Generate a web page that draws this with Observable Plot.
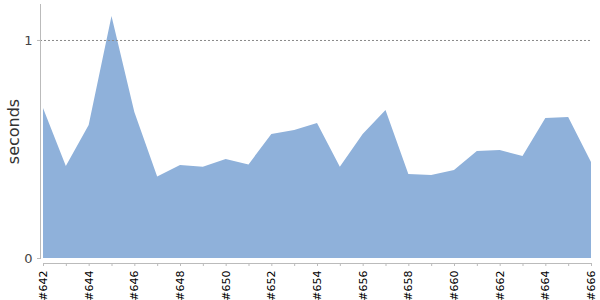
<!DOCTYPE html>
<html>
<head>
<meta charset="utf-8">
<script src="https://cdn.jsdelivr.net/npm/d3@7"></script>
<script src="https://cdn.jsdelivr.net/npm/@observablehq/plot@0.6"></script>
<style>
  html, body { margin: 0; padding: 0; background: #fff; }
  svg { font-family: "DejaVu Sans", sans-serif; display: block; }
</style>
</head>
<body>
<div id="chart"></div>
<script>
const builds = ["#642","#643","#644","#645","#646","#647","#648","#649","#650","#651","#652","#653","#654","#655","#656","#657","#658","#659","#660","#661","#662","#663","#664","#665","#666"];
const seconds = [0.688,0.422,0.610,1.110,0.670,0.374,0.427,0.419,0.454,0.429,0.569,0.587,0.619,0.419,0.569,0.679,0.385,0.381,0.404,0.491,0.495,0.468,0.642,0.647,0.440];
const yTicks = [0, 1];

const buildNums = builds.map(b => +b.slice(1));
const data = builds.map((b, i) => ({n: buildNums[i], sec: seconds[i]}));

const chart = Plot.plot({
  width: 600,
  height: 300,
  marginLeft: 43,
  marginRight: 9,
  marginTop: 4,
  marginBottom: 42,
  style: {fontFamily: "DejaVu Sans, sans-serif", background: "#fff"},
  x: {type: "linear", domain: [buildNums[0], buildNums[buildNums.length - 1]]},
  y: {domain: [0, 1.165]},
  marks: [
    Plot.areaY(data, {x: "n", y: "sec", fill: "#8fb1da", curve: "linear"}),
    Plot.ruleY([1], {stroke: "#888", strokeDasharray: "2,2", strokeWidth: 1, insetLeft: -3, insetRight: 1}),
    Plot.ruleX([buildNums[0]], {stroke: "#bbb", dx: -3, insetBottom: -1}),
    Plot.ruleY([0], {stroke: "#bbb", dy: 5}),
    Plot.axisX({
      ticks: buildNums,
      tickSize: 3,
      dy: 5,
      tickRotate: -90,
      tickPadding: 4,
      tickFormat: d => (builds.indexOf("#" + d) % 2 === 0 ? "#" + d : ""),
      fontSize: 11,
      fill: "#000",
      stroke: "#bbb",
      label: null
    }),
    Plot.axisY({
      ticks: yTicks,
      tickSize: 3,
      dx: -3,
      tickPadding: 5,
      tickFormat: d => String(d),
      fontSize: 13,
      fill: "#444",
      stroke: "#bbb",
      label: null
    }),
    Plot.text(["seconds"], {
      frameAnchor: "left",
      dx: -30,
      rotate: -90,
      textAnchor: "middle",
      lineAnchor: "middle",
      fontSize: 16,
      fill: "#333"
    })
  ]
});
document.getElementById("chart").appendChild(chart);
</script>
</body>
</html>
